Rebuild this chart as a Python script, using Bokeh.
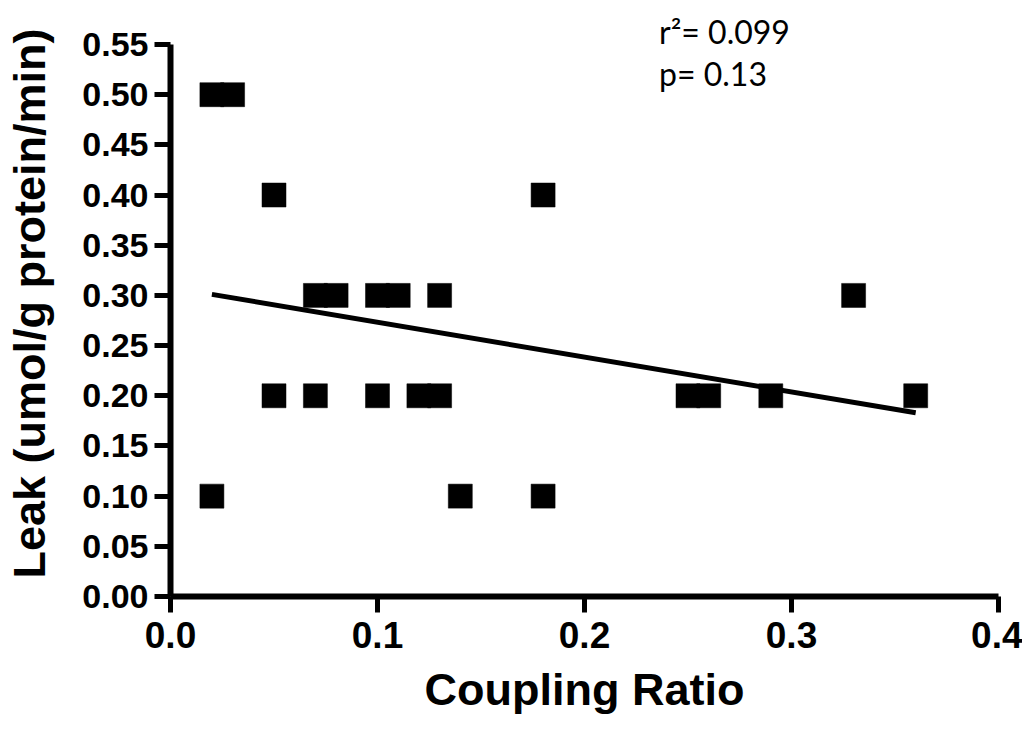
from bokeh.plotting import figure
from bokeh.models import Range1d, FixedTicker, NumeralTickFormatter, Label, ColumnDataSource
from bokeh.embed import file_html
from bokeh.resources import INLINE

# ---- data ----
coupling_ratio = [0.02, 0.03, 0.05, 0.18,
                  0.07, 0.08, 0.10, 0.11, 0.13, 0.33,
                  0.05, 0.07, 0.10, 0.12, 0.13, 0.25, 0.26, 0.29, 0.36,
                  0.02, 0.14, 0.18]
leak = [0.50, 0.50, 0.40, 0.40,
        0.30, 0.30, 0.30, 0.30, 0.30, 0.30,
        0.20, 0.20, 0.20, 0.20, 0.20, 0.20, 0.20, 0.20, 0.20,
        0.10, 0.10, 0.10]
fit_x = [0.02, 0.36]
fit_y = [0.301, 0.183]
x_ticks = [0.0, 0.1, 0.2, 0.3, 0.4]
y_ticks = [0.00, 0.05, 0.10, 0.15, 0.20, 0.25, 0.30, 0.35, 0.40, 0.45, 0.50, 0.55]
stats_text = ["r\u00b2= 0.099", "p= 0.13"]
stats_y = [0.563, 0.521]

AX_FONT = "Liberation Sans"

FRAME_H = 586
Y_END = 0.55 * FRAME_H / 552.0

p = figure(
    output_backend="svg", toolbar_location=None,
    frame_width=828, frame_height=FRAME_H,
    min_border_left=170, min_border_right=24, min_border_top=10, min_border_bottom=124,
    x_range=Range1d(0, 0.4), y_range=Range1d(0, Y_END),
    background_fill_color="white", border_fill_color="white",
)
p.outline_line_color = None
p.grid.visible = False

src = ColumnDataSource(dict(x=coupling_ratio, y=leak))
p.scatter("x", "y", source=src, marker="square", size=24,
          fill_color="black", line_color="black", line_width=0.5)
p.line(fit_x, fit_y, line_color="black", line_width=5)

for ax in (p.xaxis[0], p.yaxis[0]):
    ax.axis_line_width = 6
    ax.axis_line_color = "black"
    ax.major_tick_line_width = 5
    ax.major_tick_line_color = "black"
    ax.major_tick_out = 16
    ax.major_tick_in = 0
    ax.minor_tick_line_color = None
    ax.major_label_text_font = AX_FONT
    ax.major_label_text_font_style = "bold"
    ax.major_label_text_color = "black"
    ax.axis_label_text_font = AX_FONT
    ax.axis_label_text_font_style = "bold"
    ax.axis_label_text_color = "black"

p.yaxis.bounds = (0, 0.55)
p.xaxis.ticker = FixedTicker(ticks=x_ticks)
p.yaxis.ticker = FixedTicker(ticks=y_ticks)
p.xaxis.formatter = NumeralTickFormatter(format="0.0")
p.yaxis.formatter = NumeralTickFormatter(format="0.00")

p.xaxis.major_label_text_font_size = "37px"
p.yaxis.major_label_text_font_size = "34px"
p.xaxis.major_label_standoff = 9
p.yaxis.major_label_standoff = 6

p.xaxis.axis_label = "Coupling Ratio"
p.yaxis.axis_label = "Leak (umol/g protein/min)"
p.xaxis.axis_label_text_font_size = "45px"
p.yaxis.axis_label_text_font_size = "45px"
p.xaxis.axis_label_standoff = 13
p.yaxis.axis_label_standoff = 24

for t, yy in zip(stats_text, stats_y):
    p.add_layout(Label(x=0.236, y=yy, text=t, text_font="Lato",
                       text_font_size="32px", text_color="black",
                       text_baseline="alphabetic", text_align="left"))

open("out.html", "w").write(file_html(p, INLINE))
